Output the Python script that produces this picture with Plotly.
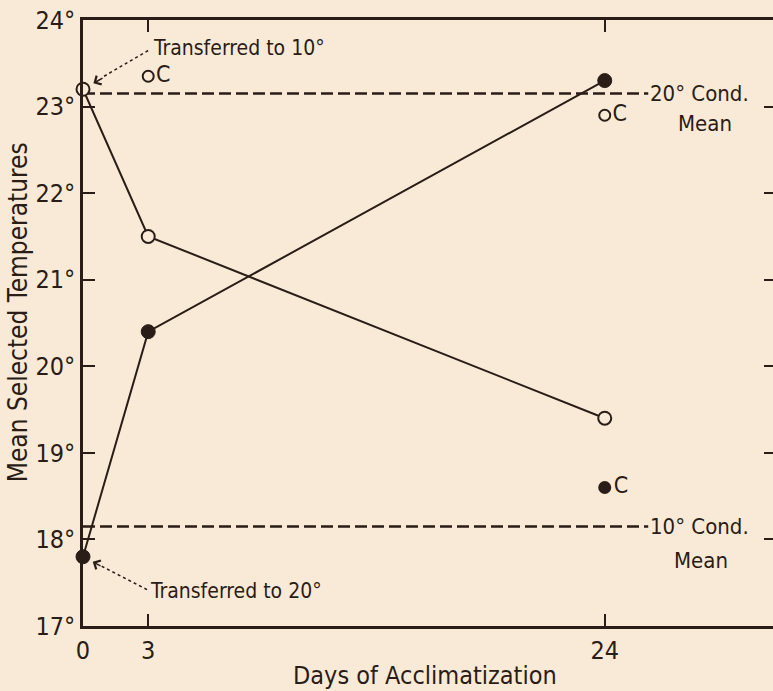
import plotly.graph_objects as go

# ---------------- data ----------------
days = [0, 3, 24]
transferred_to_10 = [23.2, 21.5, 19.4]   # open circles
transferred_to_20 = [17.8, 20.4, 23.3]   # filled circles

control_open_days = [3, 24]
control_open_vals = [23.35, 22.9]
control_filled_days = [24]
control_filled_vals = [18.6]

cond_line_days = [0, 26.0]
cond20_mean = 23.15
cond10_mean = 18.15

y_ticks = [17, 18, 19, 20, 21, 22, 23, 24]
y_tick_labels = ["17°", "18°", "19°", "20°", "21°", "22°", "23°", "24°"]
x_ticks = [0, 3, 24]
x_tick_labels = ["0", "3", "24"]

# ---------------- style ----------------
BG = "#F8EAD6"
INK = "#2A1C16"
FONT = "DejaVu Sans Condensed, Liberation Sans Narrow, sans-serif"
ANN = 21

fig = go.Figure()

# condition mean dashed lines
for val in (cond20_mean, cond10_mean):
    fig.add_trace(go.Scatter(
        x=cond_line_days, y=[val, val], mode="lines",
        line=dict(color=INK, width=2.5, dash="12px,5px"),
        hoverinfo="skip", showlegend=False))

# transferred to 10 (open)
fig.add_trace(go.Scatter(
    x=days, y=transferred_to_10, mode="lines+markers",
    line=dict(color=INK, width=2),
    marker=dict(symbol="circle", size=13, color=BG, line=dict(color=INK, width=2)),
    cliponaxis=False, showlegend=False))

# transferred to 20 (filled)
fig.add_trace(go.Scatter(
    x=days, y=transferred_to_20, mode="lines+markers",
    line=dict(color=INK, width=2),
    marker=dict(symbol="circle", size=14, color=INK, line=dict(color=INK, width=1)),
    cliponaxis=False, showlegend=False))

# controls
fig.add_trace(go.Scatter(
    x=control_open_days, y=control_open_vals, mode="markers+text",
    text=["C"] * len(control_open_days), textposition="middle right",
    textfont=dict(family=FONT, size=23, color=INK),
    marker=dict(symbol="circle", size=11, color=BG, line=dict(color=INK, width=2)),
    cliponaxis=False, showlegend=False))
fig.add_trace(go.Scatter(
    x=control_filled_days, y=control_filled_vals, mode="markers+text",
    text=["C"] * len(control_filled_days), textposition="middle right",
    textfont=dict(family=FONT, size=23, color=INK),
    marker=dict(symbol="circle", size=13, color=INK),
    cliponaxis=False, showlegend=False))

# invisible trace for right-side tick axis
fig.add_trace(go.Scatter(x=[0], y=[17], yaxis="y2", mode="markers",
                         marker=dict(opacity=0), hoverinfo="skip", showlegend=False))

annotations = [
    dict(text="Transferred to 10°", x=3.12, y=23.68, xref="x", yref="y",
         xanchor="left", yanchor="middle", showarrow=False,
         font=dict(family=FONT, size=ANN, color=INK)),
    dict(text="", x=0, y=transferred_to_10[0], xref="x", yref="y",
         ax=21, ay=-12, showarrow=True, arrowhead=4, arrowsize=1.3,
         arrowwidth=1.5, arrowcolor=INK, standoff=12),
    dict(text="Transferred to 20°", x=2.98, y=17.41, xref="x", yref="y",
         xanchor="left", yanchor="middle", showarrow=False,
         font=dict(family=FONT, size=ANN, color=INK)),
    dict(text="", x=0, y=transferred_to_20[0], xref="x", yref="y",
         ax=19, ay=10, showarrow=True, arrowhead=4, arrowsize=1.3,
         arrowwidth=1.5, arrowcolor=INK, standoff=11),
    dict(text="20° Cond.", x=26.0, y=cond20_mean, xref="x", yref="y",
         xanchor="left", yanchor="middle", showarrow=False,
         font=dict(family=FONT, size=22, color=INK)),
    dict(text="Mean", x=28.6, y=22.81, xref="x", yref="y",
         xanchor="center", yanchor="middle", showarrow=False,
         font=dict(family=FONT, size=22, color=INK)),
    dict(text="10° Cond.", x=26.0, y=cond10_mean, xref="x", yref="y",
         xanchor="left", yanchor="middle", showarrow=False,
         font=dict(family=FONT, size=22, color=INK)),
    dict(text="Mean", x=28.45, y=17.76, xref="x", yref="y",
         xanchor="center", yanchor="middle", showarrow=False,
         font=dict(family=FONT, size=22, color=INK)),
    dict(text="Mean Selected Temperatures", x=-0.094, y=0.518, xref="paper", yref="paper",
         textangle=-90, xanchor="center", yanchor="middle", showarrow=False,
         font=dict(family=FONT, size=26, color=INK)),
    dict(text="Days of Acclimatization", x=0.496, y=-0.081, xref="paper", yref="paper",
         xanchor="center", yanchor="middle", showarrow=False,
         font=dict(family=FONT, size=25, color=INK)),
]

shapes = [
    dict(type="line", xref="x", yref="y", x0=0.97, y0=23.35, x1=3.08, y1=23.66,
         line=dict(color=INK, width=1.5, dash="dot")),
    dict(type="line", xref="x", yref="y", x0=0.86, y0=17.69, x1=2.95, y1=17.42,
         line=dict(color=INK, width=1.5, dash="dot")),
]

fig.update_layout(
    width=773, height=691,
    margin=dict(l=83, r=0, t=20, b=65),
    paper_bgcolor=BG, plot_bgcolor=BG,
    font=dict(family=FONT, color=INK, size=24),
    showlegend=False,
    annotations=annotations,
    shapes=shapes,
    xaxis=dict(range=[0, 31.74], tickvals=x_ticks, ticktext=x_tick_labels,
               ticks="inside", ticklen=12, tickwidth=2, tickcolor=INK,
               showline=True, linecolor=INK, linewidth=2.5, mirror="ticks",
               showgrid=False, zeroline=False,
               tickfont=dict(family=FONT, size=25, color=INK)),
    yaxis=dict(range=[17, 24], tickvals=y_ticks, ticktext=y_tick_labels,
               ticks="inside", ticklen=12, tickwidth=2, tickcolor=INK,
               showline=True, linecolor=INK, linewidth=2.5,
               showgrid=False, zeroline=False,
               tickfont=dict(family=FONT, size=25, color=INK)),
    yaxis2=dict(range=[17, 24], overlaying="y", side="right", anchor="x",
                tickvals=y_ticks, ticks="inside", ticklen=9, tickwidth=2,
                tickcolor=INK, showticklabels=False, showline=False,
                showgrid=False, zeroline=False),
)

fig.write_html(
    "out.html",
    config={"displayModeBar": False},
    post_script="document.body.style.margin='0';document.body.style.background='%s';" % BG,
)
